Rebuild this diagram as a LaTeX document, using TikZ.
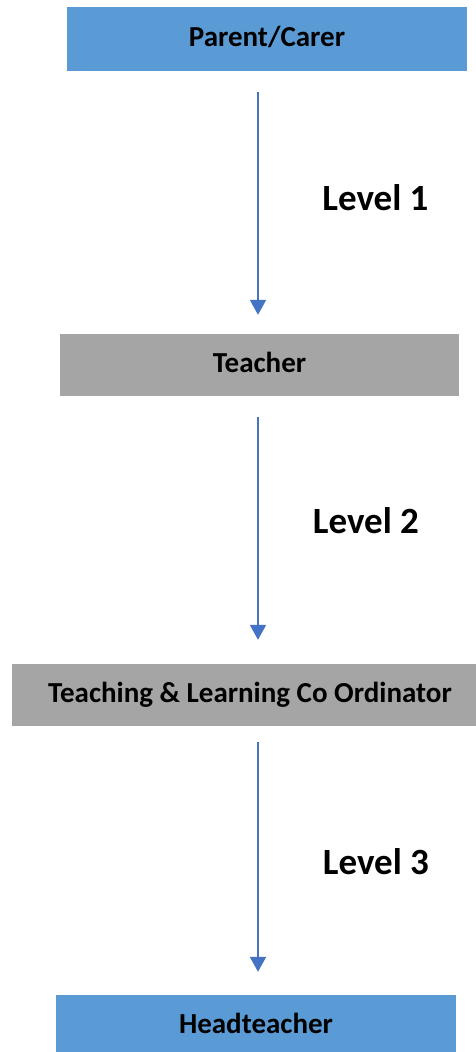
\documentclass[tikz,border=0pt]{standalone}
\usepackage{fontspec}
\setmainfont{Carlito}
\usetikzlibrary{arrows.meta}
\definecolor{boxblue}{HTML}{5B9BD5}
\definecolor{boxgray}{HTML}{A5A5A5}
\definecolor{arrowblue}{HTML}{4472C4}
\begin{document}
\begin{tikzpicture}[x=1pt,y=-1pt,
  box/.style={inner sep=0pt, minimum height=62pt, font=\fontsize{29}{30}\selectfont\bfseries,
    text height=14pt, text depth=0pt},
  bluebox/.style={box, fill=boxblue},
  graybox/.style={box, fill=boxgray},
  levellabel/.style={anchor=base, inner sep=0pt, font=\fontsize{37}{40}\selectfont\bfseries},
  flow/.style={draw=arrowblue, line width=2pt, -{Triangle[length=15pt,width=16pt]}}]
\clip (0,0) rectangle (476,1052);
\fill[white] (0,0) rectangle (476,1052);
\coordinate (ax) at (258,0);
\node[bluebox, minimum width=400pt, minimum height=64pt] (parent) at (267,39) {Parent/Carer};
\node[graybox, minimum width=399pt] (teacher) at (259.5,365) {Teacher};
\node[graybox, minimum width=476pt] (tlc) at (250,695) {Teaching \& Learning Co Ordinator};
\node[bluebox, minimum width=400pt] (head) at (256,1026) {Headteacher};
\node[levellabel] (l1) at (375.5,210) {Level 1};
\node[levellabel] (l2) at (366,533) {Level 2};
\node[levellabel] (l3) at (376,874) {Level 3};
\draw[flow, shorten <=21pt, shorten >=19pt] (ax |- parent.south) -- (ax |- teacher.north);
\draw[flow, shorten <=21pt, shorten >=24pt] (ax |- teacher.south) -- (ax |- tlc.north);
\draw[flow, shorten <=16pt, shorten >=23pt] (ax |- tlc.south) -- (ax |- head.north);
\end{tikzpicture}
\end{document}
